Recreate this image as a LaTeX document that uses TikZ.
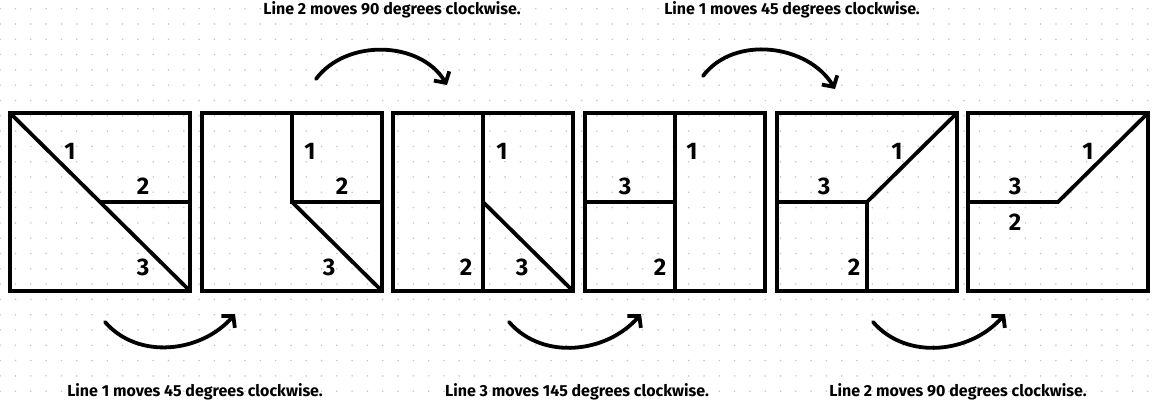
\documentclass[tikz,border=0pt]{standalone}
\usepackage{fontspec}
\setsansfont{Fira Sans}
\usetikzlibrary{arrows.meta}

\begin{document}
\begin{tikzpicture}[
    x=1pt, y=1pt,
    frame/.style={
        draw, line width=3.8pt, inner sep=0pt, outer sep=0pt,
        minimum width=180pt, minimum height=178pt,
    },
    seg/.style={line width=3.8pt},
    num/.style={font=\sffamily\bfseries\fontsize{24}{24}\selectfont},
    note/.style={font=\sffamily\bfseries\fontsize{16}{16}\selectfont},
    turn/.style={
        line width=3.8pt, line cap=round,
        -{Straight Barb[length=8pt,width=18pt]},
    },
    gridpt/.style={fill=gray!45},
    ]
    \useasboundingbox (0,0) rectangle (1156,404);
    % dotted paper
    \foreach \i in {0,...,75}
        \foreach \j in {0,...,25}
            \fill [gridpt] (0.2+15.3*\i,395.3-15.3*\j) circle (0.9);

    % the six squares
    \node [frame] (s1) at (100,202) {};
    \node [frame] (s2) at (292,202) {};
    \node [frame] (s3) at (483,202) {};
    \node [frame] (s4) at (675,202) {};
    \node [frame] (s5) at (867,202) {};
    \node [frame] (s6) at (1058,202) {};

    \draw [seg] (s1.north west) -- (s1.south east) (s1.center) -- (s1.east);
    \draw [seg] (s2.north) -- (s2.center) -- (s2.east) (s2.center) -- (s2.south east);
    \draw [seg] (s3.north) -- (s3.south) (s3.center) -- (s3.south east);
    \draw [seg] (s4.north) -- (s4.south) (s4.west) -- (s4.center);
    \draw [seg] (s5.west) -- (s5.center) -- (s5.south) (s5.center) -- (s5.north east);
    \draw [seg] (s6.west) -- (s6.center) -- (s6.north east);

    \node [num] (s1-1) at (70,253) {1};
    \node [num] (s1-2) at (143,218) {2};
    \node [num] (s1-3) at (143,137) {3};
    \node [num] (s2-1) at (310,253) {1};
    \node [num] (s2-2) at (342,218) {2};
    \node [num] (s2-3) at (329,137) {3};
    \node [num] (s3-1) at (502,253) {1};
    \node [num] (s3-2) at (466,137) {2};
    \node [num] (s3-3) at (522,137) {3};
    \node [num] (s4-1) at (692,253) {1};
    \node [num] (s4-3) at (625,218) {3};
    \node [num] (s4-2) at (660,137) {2};
    \node [num] (s5-1) at (897,253) {1};
    \node [num] (s5-3) at (824,218) {3};
    \node [num] (s5-2) at (854,137) {2};
    \node [num] (s6-1) at (1088,253) {1};
    \node [num] (s6-3) at (1015,218) {3};
    \node [num] (s6-2) at (1015,182) {2};

    % turns
    \coordinate (t1a) at (316,325);
    \coordinate (t1b) at (447,319);
    \coordinate (t2a) at (703,328);
    \coordinate (t2b) at (835,315);
    \coordinate (b1a) at (105,82);
    \coordinate (b1b) at (235,90);
    \coordinate (b2a) at (509,82);
    \coordinate (b2b) at (641,90);
    \coordinate (b3a) at (873,82);
    \coordinate (b3b) at (1005,90);
    \draw [turn] (t1a) to [out=53,in=121] (t1b);
    \draw [turn] (t2a) to [out=53,in=121] (t2b);
    \draw [turn] (b1a) to [out=-49,in=-131] (b1b);
    \draw [turn] (b2a) to [out=-49,in=-131] (b2b);
    \draw [turn] (b3a) to [out=-49,in=-131] (b3b);

    \node [note] (n1) at (392,394) {Line 2 moves 90 degrees clockwise.};
    \node [note] (n2) at (792,394) {Line 1 moves 45 degrees clockwise.};
    \node [note] (n3) at (195,12) {Line 1 moves 45 degrees clockwise.};
    \node [note] (n4) at (577,12) {Line 3 moves 145 degrees clockwise.};
    \node [note] (n5) at (958,12) {Line 2 moves 90 degrees clockwise.};
\end{tikzpicture}
\end{document}
